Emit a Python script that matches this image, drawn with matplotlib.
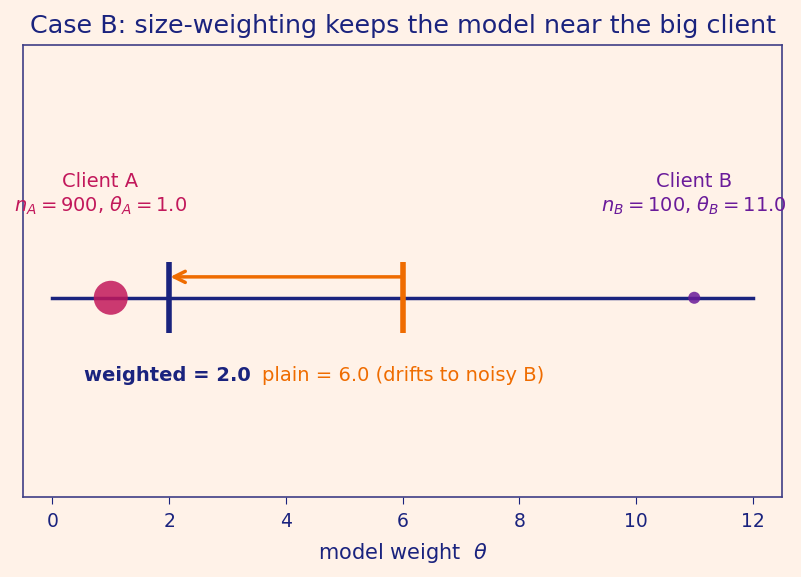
import matplotlib
matplotlib.use("Agg")
import matplotlib.pyplot as plt

# data
theta_clients = [1.0, 11.0]
n_clients = [900, 100]
client_names = ["Client A", "Client B"]
weighted_mean = 2.0
plain_mean = 6.0
xticks = [0, 2, 4, 6, 8, 10, 12]

NAVY = "#1A237E"
CRIMSON = "#C2185B"
PURPLE = "#6A1B9A"
ORANGE = "#EF6C00"
BG = "#FFF2E8"

fig, ax = plt.subplots(figsize=(8.01, 5.77), dpi=100)
fig.patch.set_facecolor(BG)
ax.set_facecolor(BG)

# number line
ax.plot([0, 12], [0, 0], color=NAVY, lw=2.5, zorder=1)

# clients (marker area ~ sample size)
sizes = [600, 75]
cols = [CRIMSON, PURPLE]
for th, s, c in zip(theta_clients, sizes, cols):
    ax.scatter(th, 0, s=s, color=c, alpha=0.85, zorder=3, edgecolor="none")

# means
ax.plot([weighted_mean, weighted_mean], [-0.178, 0.18], color=NAVY, lw=4,
        solid_capstyle="butt", zorder=2)
ax.plot([plain_mean, plain_mean], [-0.178, 0.18], color=ORANGE, lw=4,
        solid_capstyle="butt", zorder=2)
ax.annotate("", xy=(weighted_mean + 0.02, 0.105), xytext=(plain_mean, 0.105),
            arrowprops=dict(arrowstyle="->", color=ORANGE, lw=2.5,
                            mutation_scale=20, shrinkA=0, shrinkB=0))

# labels
xs_lab = [0.82, 11.0]
subs = ["A", "B"]
for x, name, n, th, c, sub in zip(xs_lab, client_names, n_clients, theta_clients, cols, subs):
    ax.text(x, 0.583, name, color=c, fontsize=14, ha="center", va="center")
    ax.text(x, 0.462, "$n_%s=%d$, $\\theta_%s=%.1f$" % (sub, n, sub, th),
            color=c, fontsize=14, ha="center", va="center")

ax.annotate("weighted = %.1f" % weighted_mean, xy=(3.5, -0.392), xytext=(-4, 0),
            textcoords="offset points", ha="right", va="center",
            color=NAVY, fontsize=14, fontweight="bold")
ax.annotate("plain = %.1f (drifts to noisy B)" % plain_mean, xy=(3.5, -0.392), xytext=(4, 0),
            textcoords="offset points", ha="left", va="center",
            color=ORANGE, fontsize=14)

ax.set_xlim(-0.5, 12.5)
ax.set_ylim(-1.0, 1.27)
ax.set_yticks([])
ax.set_xticks(xticks)
ax.tick_params(axis="x", colors=NAVY, labelsize=13.5, length=5, pad=6)
for sp in ax.spines.values():
    sp.set_color("#3F3F86")
    sp.set_linewidth(1.2)
ax.set_xlabel("model weight  $\\theta$", color=NAVY, fontsize=15, labelpad=7)
ax.set_title("Case B: size-weighting keeps the model near the big client",
             color=NAVY, fontsize=18.3, pad=9)

plt.subplots_adjust(left=0.029, right=0.976, top=0.922, bottom=0.139)
plt.savefig("out.png", dpi=100, facecolor=BG)
